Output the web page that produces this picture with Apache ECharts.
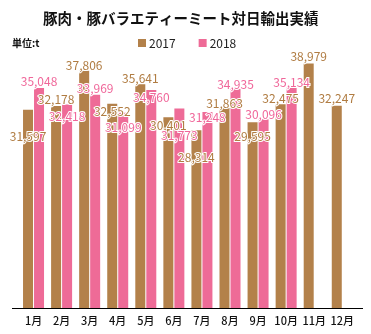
<!DOCTYPE html>
<html>
<head>
<meta charset="utf-8">
<script src="https://cdn.jsdelivr.net/npm/echarts@6/dist/echarts.min.js"></script>
<style>
html,body{margin:0;padding:0;background:#fff;}
#c{width:371px;height:334px;}
</style>
</head>
<body>
<div id="c"></div>
<script>
var categories = ['1月','2月','3月','4月','5月','6月','7月','8月','9月','10月','11月','12月'];
var seriesNames = ['2017','2018'];
var values2017 = [31597,32178,37806,32552,35641,30401,28314,31863,29595,32475,38979,32247];
var values2018 = [35048,32418,33969,31099,34760,31773,31248,34935,30096,35134,null,null];
// label vertical shift (px, label centre relative to bar top) as in the reference layout
var labelShift2017 = [26,-8,-6,7,-7,7,26,-6,13,-7,-8,-8];
var labelShift2018 = [-8,11,-7,14,7,26,5,-5,-6,-6,0,0];

var FONT = '"Noto Sans CJK JP", "Noto Sans", sans-serif';
var BROWN = '#B3814A';
var PINK = '#EE6B97';

function makeData(vals, shifts) {
  return vals.map(function (v, i) {
    return {
      value: v,
      label: { offset: [0, shifts[i] + 7] }
    };
  });
}

var chart = echarts.init(document.getElementById('c'), null, {renderer: 'canvas'});
chart.setOption({
  animation: false,
  backgroundColor: '#fff',
  title: {
    text: '豚肉・豚バラエティーミート対日輸出実績',
    left: 38,
    top: 6,
    textStyle: { fontFamily: FONT, fontSize: 14.5, fontWeight: 'bold', color: '#111' }
  },
  graphic: [
    { type: 'text', left: 12, top: 38, style: { text: '単位:t', font: 'bold 10px ' + FONT, fill: '#111' } },
    { type: 'line', shape: { x1: 12, y1: 308.5, x2: 363, y2: 308.5 }, style: { stroke: '#000', lineWidth: 1.2 }, z: 10 }
  ],
  legend: {
    data: seriesNames,
    top: 32,
    left: 133,
    itemWidth: 8,
    itemHeight: 8,
    itemGap: 23,
    icon: 'rect',
    textStyle: { fontFamily: FONT, fontSize: 12, color: '#222', padding: [0, 0, 0, -2] }
  },
  grid: { left: 19.5, right: 14.7, top: 57, bottom: 26 },
  xAxis: {
    type: 'category',
    data: categories,
    axisLine: { show: true, lineStyle: { color: '#000', width: 1.2 } },
    axisTick: { show: false },
    axisLabel: { interval: 0, fontFamily: FONT, fontSize: 11, color: '#111', margin: 7, fontWeight: 500 }
  },
  yAxis: {
    type: 'value',
    min: 0,
    max: 40000,
    show: false,
    splitLine: { show: false }
  },
  series: [
    {
      name: seriesNames[0],
      type: 'bar',
      barWidth: 10,
      barGap: '10%',
      itemStyle: { color: BROWN },
      data: makeData(values2017, labelShift2017),
      label: {
        show: true,
        position: 'top',
        distance: 0,
        fontFamily: FONT,
        fontSize: 12,
        color: '#B07C42',
        textBorderColor: '#fff',
        textBorderWidth: 2,
        formatter: function (p) { return p.value == null ? '' : p.value.toLocaleString('en-US'); }
      }
    },
    {
      name: seriesNames[1],
      type: 'bar',
      barWidth: 10,
      itemStyle: { color: PINK },
      data: makeData(values2018, labelShift2018),
      label: {
        show: true,
        position: 'top',
        distance: 0,
        fontFamily: FONT,
        fontSize: 12,
        color: '#F0679A',
        textBorderColor: '#fff',
        textBorderWidth: 2,
        formatter: function (p) { return p.value == null ? '' : p.value.toLocaleString('en-US'); }
      }
    }
  ]
});
</script>
</body>
</html>
